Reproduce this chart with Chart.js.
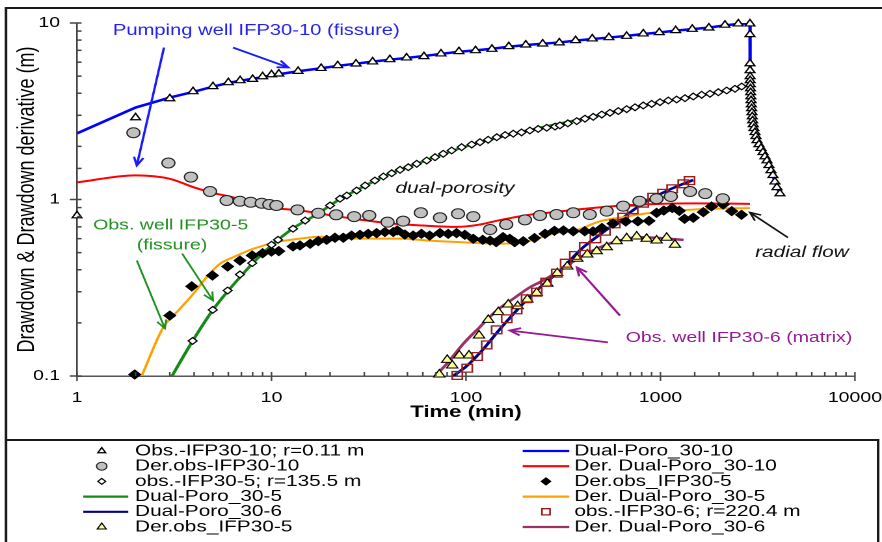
<!DOCTYPE html>
<html>
<head>
<meta charset="utf-8">
<title>Drawdown and derivative, IFP30 wells</title>
<style>
  html, body { margin: 0; padding: 0; background: #fff; overflow: hidden; }
  /* the reference is stretched sideways, so the chart is drawn narrow and scaled out */
  #wrap { width: 678px; height: 542px; transform: scaleX(1.30088); transform-origin: 0 0; }
</style>
<script src="https://cdn.jsdelivr.net/npm/chart.js@4.4.0/dist/chart.umd.min.js"></script>
</head>
<body>
<div id="wrap"><canvas id="chart"></canvas></div>
<script>
const FAMILY = "'Liberation Sans', Arial, sans-serif";

// tick labels (log axes)
const xTickLabels = [1, 10, 100, 1000, 10000];
const yTickLabels = [0.1, 1, 10];

// Pumping well IFP30-10 : observed drawdown (pumping, then recovery)
const obs10Time = [1, 2, 3, 3.95, 5, 6, 6.9, 8, 9, 10, 10.9, 13.7, 18, 21.9, 27.2, 33.1, 40.6, 49.5, 60.8, 74.4,
  92, 112, 136, 166, 203, 248, 302, 366, 446, 543, 670, 816, 986, 1197, 1457, 1774, 2146, 2513, 2885,
  2886, 2887, 2888, 2890, 2893, 2897, 2902, 2908, 2915, 2923, 2932, 2942, 2953, 2965, 2978, 3000, 3024,
  3061, 3097, 3134, 3209, 3287, 3365, 3445, 3528, 3612, 3699, 3787, 3877, 3970, 4115];
const obs10Draw = [0.81, 2.91, 3.73, 4.09, 4.37, 4.6, 4.72, 4.8, 4.97, 5.1, 5.15, 5.33, 5.54, 5.74, 5.87, 6.03, 6.21, 6.35, 6.46, 6.69,
  6.9, 6.98, 7.11, 7.36, 7.52, 7.62, 7.73, 7.96, 8.14, 8.27, 8.42, 8.69, 8.84, 9.07, 9.23, 9.39, 9.74, 9.9, 9.9,
  8.61, 5.89, 5.38, 4.98, 4.72, 4.48, 4.25, 4.04, 3.83, 3.64, 3.45, 3.28, 3.11, 2.95, 2.80, 2.66, 2.53,
  2.40, 2.28, 2.16, 2.05, 1.95, 1.85, 1.75, 1.66, 1.56, 1.46, 1.37, 1.26, 1.17, 1.08];

// Dual-porosity model, IFP30-10
const model10Time = [1, 2, 3, 4, 5, 6, 7, 8, 10, 13.7, 18, 22, 27, 33, 41, 50, 61, 74, 92, 112,
  136, 166, 203, 248, 302, 366, 446, 543, 670, 816, 986, 1197, 1457, 1774, 2146, 2513, 2885,
  2886, 2888, 2890, 2900, 2920, 2950, 3000, 3061, 3134, 3209, 3287, 3365, 3445, 3528, 3612, 3699, 3787, 3877, 3970, 4115];
const model10Draw = [2.37, 3.32, 3.78, 4.08, 4.36, 4.58, 4.72, 4.83, 5.05, 5.33, 5.54, 5.72, 5.88, 6.04, 6.2, 6.35, 6.5, 6.68, 6.87, 7.0,
  7.15, 7.34, 7.5, 7.63, 7.76, 7.95, 8.12, 8.27, 8.45, 8.66, 8.84, 9.05, 9.23, 9.42, 9.7, 9.88, 9.95,
  7.0, 5.3, 4.95, 4.3, 3.7, 3.15, 2.62, 2.40, 2.16, 2.05, 1.95, 1.85, 1.75, 1.66, 1.56, 1.46, 1.37, 1.26, 1.17, 1.08];

// derivative, IFP30-10 (observed and model)
const der10Time = [1.95, 2.95, 3.85, 4.83, 5.88, 6.88, 7.82, 8.91, 9.75, 10.6, 13.6, 17.4, 21.5, 26.6, 31.8, 39.5, 47.5, 58.6, 73.5, 91,
  109, 133, 161, 201, 240, 292, 356, 433, 529, 643, 780, 955, 1130, 1420, 1700, 2090];
const der10Val = [2.39, 1.61, 1.34, 1.11, 0.987, 0.978, 0.965, 0.953, 0.937, 0.925, 0.874, 0.836, 0.819, 0.80, 0.812, 0.744, 0.754, 0.841, 0.788, 0.830,
  0.80, 0.676, 0.722, 0.767, 0.812, 0.822, 0.841, 0.822, 0.859, 0.917, 0.978, 1.01, 1.04, 1.11, 1.08, 1.01];
const derModel10Time = [1, 2, 3, 4, 5, 6.3, 8.7, 10, 14, 24, 42, 60, 90, 117, 150, 231, 261, 386, 600, 1000, 1500, 2885];
const derModel10Val = [1.25, 1.37, 1.31, 1.17, 1.09, 1.03, 0.91, 0.895, 0.866, 0.79, 0.73, 0.712, 0.70, 0.72, 0.765, 0.83, 0.84, 0.88, 0.92, 0.945, 0.95, 0.945];

// Observation well IFP30-5 (r = 135.5 m)
const obs5Time = [3.93, 4.99, 5.95, 6.88, 7.96, 10.0, 10.8, 12.9, 14.9, 17.4, 20, 22.5, 24.4, 27.4, 30.3, 34, 37.6, 41.5, 45.8, 50.5,
  55.8, 62.8, 69.3, 76.4, 84.4, 95, 107, 118, 130, 144, 159, 175, 193, 213, 235, 260, 287, 304, 334, 371,
  409, 451, 499, 550, 607, 670, 740, 816, 901, 994, 1097, 1211, 1337, 1475, 1629, 1797, 1983, 2190, 2415, 2616];
const obs5Draw = [0.158, 0.237, 0.305, 0.376, 0.436, 0.554, 0.591, 0.683, 0.760, 0.830, 0.925, 1.01, 1.053, 1.124, 1.20, 1.281, 1.35, 1.409, 1.473, 1.524,
  1.593, 1.663, 1.736, 1.815, 1.895, 1.979, 2.049, 2.112, 2.18, 2.254, 2.32, 2.36, 2.40, 2.46, 2.51, 2.55, 2.59, 2.63, 2.70, 2.78,
  2.87, 2.94, 3.03, 3.10, 3.17, 3.25, 3.33, 3.41, 3.48, 3.56, 3.638, 3.686, 3.75, 3.834, 3.92, 3.971, 4.054, 4.145, 4.238, 4.367];
const model5Time = [3.08, 3.93, 5, 6, 7, 8, 10, 13, 17, 22, 30, 40, 60, 100, 200, 400, 700, 1000, 1500, 2000, 2616];
const model5Draw = [0.1, 0.158, 0.237, 0.305, 0.37, 0.435, 0.55, 0.69, 0.82, 0.99, 1.19, 1.39, 1.64, 2.0, 2.44, 2.87, 3.29, 3.56, 3.84, 4.06, 4.37];
const der5Time = [1.98, 3.0, 3.89, 4.97, 5.95, 6.88, 7.96, 9.0, 9.99, 10.9, 12.9, 14.0, 15.8, 17.4, 19.2, 21.2, 23.4, 25.8, 28.5, 31.4,
  34.7, 38.3, 42.3, 44.3, 48.5, 53.5, 59, 65, 73.5, 81, 89.4, 98.6, 109, 122, 133, 143, 155, 168, 178, 197,
  225, 255, 285, 317, 356, 408, 450, 500, 570, 663, 765, 873, 955, 1040, 1150, 1250, 1330, 1475, 1660, 1830, 2100, 2325, 2610];
const der5Val = [0.102, 0.22, 0.322, 0.371, 0.417, 0.451, 0.482, 0.496, 0.507, 0.510, 0.542, 0.549, 0.561, 0.581, 0.591, 0.607, 0.607, 0.625, 0.631, 0.639,
  0.645, 0.654, 0.654, 0.668, 0.633, 0.625, 0.639, 0.625, 0.645, 0.639, 0.645, 0.631, 0.599, 0.591, 0.585, 0.573, 0.612, 0.599, 0.573, 0.58,
  0.605, 0.639, 0.665, 0.668, 0.661, 0.661, 0.659, 0.69, 0.73, 0.75, 0.752, 0.757, 0.84, 0.866, 0.895, 0.862, 0.777, 0.788, 0.847, 0.913, 0.937, 0.859, 0.819];
const derModel5Time = [2.15, 2.78, 3.38, 3.96, 4.64, 5.43, 6.36, 8.06, 10.6, 14, 17.8, 28.5, 45.8, 62.8, 93, 150, 200, 281, 386, 451,
  505, 670, 755, 994, 1797, 2885];
const derModel5Val = [0.1, 0.189, 0.24, 0.292, 0.363, 0.432, 0.471, 0.526, 0.573, 0.60, 0.615, 0.60, 0.60, 0.586, 0.573, 0.562, 0.575, 0.64, 0.68, 0.73,
  0.76, 0.80, 0.82, 0.85, 0.886, 0.893];

// Observation well IFP30-6 (r = 220.4 m)
const obs6Time = [90.2, 101.5, 114.3, 127.8, 143.8, 162, 182.3, 205, 231, 258, 293, 325.5, 363, 408, 463, 518, 582, 643, 720, 816,
  917, 1030, 1148, 1310, 1410];
const obs6Draw = [0.1007, 0.1107, 0.129, 0.150, 0.1827, 0.211, 0.237, 0.274, 0.2985, 0.34, 0.3824, 0.4356, 0.4817, 0.541, 0.599, 0.661, 0.728, 0.794, 0.874, 0.953,
  1.03, 1.085, 1.15, 1.227, 1.28];
const model6Time = [85.8, 100, 120, 150, 200, 250, 300, 400, 500, 600, 800, 1000, 1200, 1475];
const model6Draw = [0.1, 0.113, 0.138, 0.185, 0.262, 0.33, 0.39, 0.535, 0.645, 0.745, 0.94, 1.075, 1.18, 1.29];
const der6Time = [72.9, 80.1, 85.0, 92.4, 103.6, 116.7, 130.2, 146.6, 165, 184.4, 206.7, 231, 262, 294.7, 331.7, 373.5, 420.5, 470, 529, 595.5,
  670, 754.5, 849, 955, 1076, 1187];
const der6Val = [0.102, 0.1235, 0.1147, 0.1306, 0.1306, 0.1697, 0.208, 0.23, 0.254, 0.2485, 0.2713, 0.296, 0.333, 0.3824, 0.417, 0.4613, 0.488, 0.5095, 0.5367, 0.5803,
  0.6034, 0.617, 0.599, 0.586, 0.607, 0.554];
const derModel6Time = [69.3, 79.6, 96.7, 117.6, 144, 175, 213, 240, 304, 386, 490, 617, 780, 994, 1315];
const derModel6Val = [0.1, 0.117, 0.152, 0.189, 0.235, 0.274, 0.318, 0.34, 0.396, 0.471, 0.537, 0.586, 0.612, 0.605, 0.59];

// text notes and arrows, placed in data units (time, drawdown)
const notes = [
  { text: 'Pumping well IFP30-10 (fissure)', t: 1.53, v: 9.07, color: '#2222ee', font: '15.5px', align: 'left' },
  { text: 'dual-porosity', t: 87.8, v: 1.154, color: '#111', font: 'italic 16px', align: 'center' },
  { text: 'Obs. well IFP30-5', t: 3.03, v: 0.712, color: '#1f8f1f', font: '15px', align: 'center' },
  { text: '(fissure)', t: 3.08, v: 0.549, color: '#1f8f1f', font: '15px', align: 'center' },
  { text: 'radial flow', t: 5340, v: 0.501, color: '#111', font: 'italic 16px', align: 'center' },
  { text: 'Obs. well IFP30-6 (matrix)', t: 2533, v: 0.165, color: '#931a93', font: '15px', align: 'center' },
];
const arrows = [
  { from: [2.80, 7.26], to: [2.03, 1.56], color: '#1a1aff', width: 1.8 },
  { from: [6.34, 7.26], to: [12.2, 5.6], color: '#1a1aff', width: 1.8 },
  { from: [2.03, 0.451], to: [2.83, 0.186], color: '#1f8f1f', width: 1.5 },
  { from: [3.47, 0.494], to: [5.0, 0.268], color: '#1f8f1f', width: 1.5 },
  { from: [4524, 0.609], to: [2884, 0.844], color: '#111', width: 1.5 },
  { from: [537, 0.155], to: [168, 0.181], color: '#931a93', width: 1.8 },
  { from: [619, 0.220], to: [372, 0.412], color: '#931a93', width: 1.8 },
];

const pts = (t, v) => t.map((x, i) => ({ x, y: v[i] }));
const isPow10 = v => Math.abs(Math.log10(v) - Math.round(Math.log10(v))) < 1e-6;
const tickText = (list, v) => {
  const hit = list.find(l => Math.abs(l - v) / l < 1e-6);
  return hit === undefined ? '' : String(hit);
};

function markers(label, t, v, style, radius, fill, border, borderWidth) {
  return {
    label, data: pts(t, v), showLine: false, order: 1, clip: false,
    pointStyle: style, pointRadius: radius, pointBackgroundColor: fill,
    pointBorderColor: border, pointBorderWidth: borderWidth,
    backgroundColor: fill, borderColor: border,
  };
}
function curve(label, t, v, color, width, smooth) {
  return {
    label, data: pts(t, v), showLine: true, order: 2, pointRadius: 0,
    borderColor: color, backgroundColor: color, borderWidth: width, fill: false,
    cubicInterpolationMode: smooth ? 'monotone' : 'default', tension: 0,
  };
}

// datasets in legend order: row by row, left column then right column
const datasets = [
  markers('Obs.-IFP30-10; r=0.11 m', obs10Time, obs10Draw, 'triangle', 4.3, '#ffffff', '#000000', 1.2),
  curve('Dual-Poro_30-10', model10Time, model10Draw, '#0000ff', 2.5, false),
  markers('Der.obs-IFP30-10', der10Time, der10Val, 'circle', 5, '#c0c0c0', '#222222', 1),
  curve('Der. Dual-Poro_30-10', derModel10Time, derModel10Val, '#ff0000', 2, true),
  markers('obs.-IFP30-5; r=135.5 m', obs5Time, obs5Draw, 'rectRot', 3.4, '#ffffff', '#000000', 1.1),
  markers('Der.obs_IFP30-5', der5Time, der5Val, 'rectRot', 4.5, '#000000', '#000000', 1),
  curve('Dual-Poro_30-5', model5Time, model5Draw, '#168a16', 2.5, true),
  curve('Der. Dual-Poro_30-5', derModel5Time, derModel5Val, '#ffa000', 2, true),
  curve('Dual-Poro_30-6', model6Time, model6Draw, '#00008b', 2.5, true),
  markers('obs.-IFP30-6; r=220.4 m', obs6Time, obs6Draw, 'rect', 5.5, 'rgba(0,0,0,0)', '#991f1f', 1.3),
  markers('Der.obs_IFP30-5', der6Time, der6Val, 'triangle', 5, '#ffff99', '#000000', 1),
  curve('Der. Dual-Poro_30-6', derModel6Time, derModel6Val, '#993366', 2.5, true),
];

function drawArrow(ctx, x1, y1, x2, y2, color, width) {
  ctx.save();
  ctx.strokeStyle = color;
  ctx.lineWidth = width;
  ctx.beginPath();
  ctx.moveTo(x1, y1);
  ctx.lineTo(x2, y2);
  ctx.stroke();
  const a = Math.atan2(y2 - y1, x2 - x1), len = 9, spread = 0.42;
  ctx.beginPath();
  ctx.moveTo(x2 - len * Math.cos(a - spread), y2 - len * Math.sin(a - spread));
  ctx.lineTo(x2, y2);
  ctx.lineTo(x2 - len * Math.cos(a + spread), y2 - len * Math.sin(a + spread));
  ctx.stroke();
  ctx.restore();
}

// ticks, notes, frame and the two-column legend
const decor = {
  id: 'decor',
  afterDraw(chart) {
    const { ctx, chartArea: ca, scales: { x, y } } = chart;
    const W = chart.width, H = chart.height;
    ctx.save();

    // tick marks: majors cross the axis, minors point inward
    ctx.strokeStyle = '#444';
    x.ticks.forEach(tk => {
      const px = x.getPixelForValue(tk.value);
      ctx.lineWidth = 1.2;
      ctx.beginPath();
      ctx.moveTo(px, ca.bottom - 4);
      ctx.lineTo(px, ca.bottom + (isPow10(tk.value) ? 5 : 0));
      ctx.stroke();
    });
    y.ticks.forEach(tk => {
      const py = y.getPixelForValue(tk.value);
      ctx.lineWidth = 1.5;
      ctx.beginPath();
      ctx.moveTo(ca.left - (isPow10(tk.value) ? 5.5 : 0), py);
      ctx.lineTo(ca.left + 3.5, py);
      ctx.stroke();
    });

    // notes and arrows
    ctx.textBaseline = 'middle';
    notes.forEach(n => {
      ctx.font = n.font + ' ' + FAMILY;
      ctx.fillStyle = n.color;
      ctx.textAlign = n.align;
      ctx.fillText(n.text, x.getPixelForValue(n.t), y.getPixelForValue(n.v));
    });
    arrows.forEach(a => {
      drawArrow(ctx, x.getPixelForValue(a.from[0]), y.getPixelForValue(a.from[1]),
        x.getPixelForValue(a.to[0]), y.getPixelForValue(a.to[1]), a.color, a.width);
    });

    // outer frame and legend box
    const fx = 4.6, legTop = 440, legRight = 675;
    ctx.strokeStyle = '#1a1a1a';
    ctx.lineWidth = 2;
    ctx.beginPath();
    ctx.moveTo(W, 8); ctx.lineTo(fx, 8); ctx.lineTo(fx, H);
    ctx.moveTo(fx, legTop); ctx.lineTo(legRight, legTop); ctx.lineTo(legRight, H);
    ctx.stroke();

    // legend
    const rowY = [451, 466.2, 481.4, 496.6, 511.8, 527];
    const cols = [
      { lineFrom: 64.0, lineTo: 98.6, mark: 78.2, text: 103.8 },
      { lineFrom: 401.8, lineTo: 437.6, mark: 419.7, text: 441.5 },
    ];
    ctx.font = '16px ' + FAMILY;
    ctx.textAlign = 'left';
    chart.data.datasets.forEach((ds, i) => {
      const c = cols[i % 2], yy = rowY[Math.floor(i / 2)];
      if (ds.showLine) {
        ctx.strokeStyle = ds.borderColor;
        ctx.lineWidth = 2.2;
        ctx.beginPath();
        ctx.moveTo(c.lineFrom, yy);
        ctx.lineTo(c.lineTo, yy);
        ctx.stroke();
      } else {
        ctx.fillStyle = ds.pointBackgroundColor;
        ctx.strokeStyle = ds.pointBorderColor;
        ctx.lineWidth = ds.pointBorderWidth;
        Chart.helpers.drawPoint(ctx, {
          pointStyle: ds.pointStyle, rotation: 0,
          radius: Math.max(3, ds.pointRadius * 0.8), borderWidth: ds.pointBorderWidth,
        }, c.mark, yy);
      }
      ctx.fillStyle = '#000';
      ctx.fillText(ds.label, c.text, yy);
    });
    ctx.restore();
  },
};

new Chart(document.getElementById('chart'), {
  type: 'scatter',
  data: { datasets },
  options: {
    responsive: true,
    maintainAspectRatio: false,
    devicePixelRatio: 2,
    animation: false,
    events: [],
    layout: { padding: { left: 0, top: 23, right: 20.8, bottom: 121 } },
    plugins: { legend: { display: false }, tooltip: { enabled: false } },
    scales: {
      x: {
        type: 'logarithmic', min: 1, max: 10000,
        grid: { display: false, drawTicks: false },
        border: { display: true, color: '#555', width: 1.5 },
        ticks: {
          autoSkip: false, maxRotation: 0, padding: 13, color: '#000',
          font: { family: FAMILY, size: 15 },
          callback: v => tickText(xTickLabels, v),
        },
        title: {
          display: true, text: 'Time (min)', color: '#000',
          font: { family: FAMILY, size: 17, weight: 'bold', lineHeight: 1 },
          padding: { top: 0, bottom: 0 },
        },
        afterFit: s => { s.height = 45; s.paddingLeft = 0; s.paddingRight = 0; },
      },
      y: {
        type: 'logarithmic', min: 0.1, max: 10,
        grid: { display: false, drawTicks: false },
        border: { display: true, color: '#444', width: 1.3 },
        ticks: {
          autoSkip: false, padding: 13, color: '#000',
          font: { family: FAMILY, size: 15 },
          callback: v => tickText(yTickLabels, v),
        },
        title: {
          display: true, text: 'Drawdown & Drawdown derivative (m)', color: '#000',
          font: { family: FAMILY, size: 18, lineHeight: 1 },
          padding: { top: 12, bottom: 0 },
        },
        afterFit: s => { s.width = 59.2; },
      },
    },
  },
  plugins: [decor],
});
</script>
</body>
</html>
